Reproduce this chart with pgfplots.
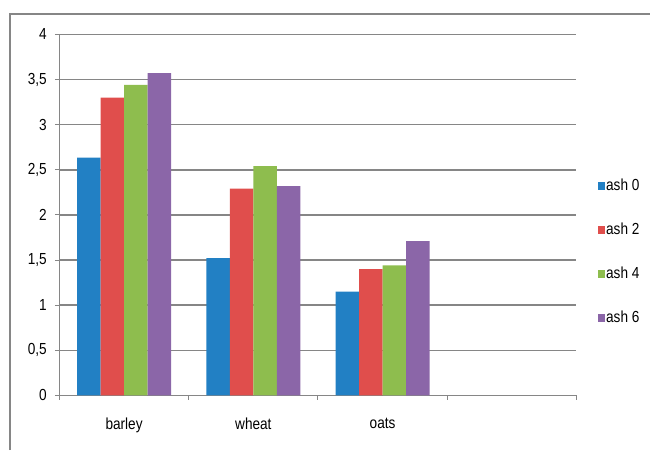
\documentclass[border=0pt]{standalone}
\usepackage{pgfplots}
\pgfplotsset{compat=1.18}
\usepackage{fontspec}
\setmainfont{Liberation Sans}[FakeStretch=0.85]
\definecolor{cA}{RGB}{34,128,196}
\definecolor{cB}{RGB}{224,78,76}
\definecolor{cC}{RGB}{142,189,78}
\definecolor{cD}{RGB}{139,102,168}
\definecolor{gridgray}{RGB}{134,134,134}
\pgfplotsset{
  /pgfplots/ybar legend/.style={/pgfplots/legend image code/.code={\fill[##1,draw=none] (0pt,-4pt) rectangle (7pt,4pt);}},
}
\begin{document}
\begin{tikzpicture}[x=1pt,y=1pt]
\useasboundingbox (0,0) rectangle (650,450);
\draw[gridgray, line width=1.5pt] (10,0) -- (10,436) -- (651,436);
\begin{axis}[
  at={(46,60.5)}, anchor=south west,
  scale only axis, width=517pt, height=361pt,
  xmin=-0.5, xmax=3.5, ymin=0, ymax=4,
  axis lines*=left,
  axis line style={gridgray, line width=1.5pt},
  ytick={0,0.5,1,1.5,2,2.5,3,3.5,4},
  ymajorgrids, grid style={gridgray, line width=1.5pt},
  tick style={gridgray, line width=1pt},
  major tick length=4.5pt, tick align=outside,
  xtick={-0.5,0.5,1.5,2.5,3.5}, xticklabels={},
  extra x ticks={0,1,2}, extra x tick labels={barley,wheat,oats},
  extra x tick style={tick style={draw=none}, grid=none},
  xticklabel style={inner sep=0pt, yshift=-18pt},
  yticklabel style={inner sep=0pt, xshift=-8pt},
  every tick label/.append style={font=\fontsize{16}{19}\selectfont},
  /pgf/number format/assume math mode=true,
  yticklabel={\pgfmathprintnumber[fixed,use comma,precision=1]{\tick}},
  ybar=0pt, bar width=0.182,
  legend style={at={(1.0406,0.604)}, anchor=north west, draw=none, fill=none,
    font=\fontsize{16}{19}\selectfont, row sep=28pt, inner sep=0pt,
    nodes={inner sep=1.5pt}},
  legend cell align=left,
]
\addplot[fill=cA, draw=none] coordinates {(0,2.635) (1,1.52) (2,1.15)};
\addplot[fill=cB, draw=none] coordinates {(0,3.30) (1,2.29) (2,1.40)};
\addplot[fill=cC, draw=none] coordinates {(0,3.44) (1,2.54) (2,1.44)};
\addplot[fill=cD, draw=none] coordinates {(0,3.57) (1,2.32) (2,1.71)};
\legend{ash 0,ash 2,ash 4,ash 6}
\end{axis}
\end{tikzpicture}
\end{document}
